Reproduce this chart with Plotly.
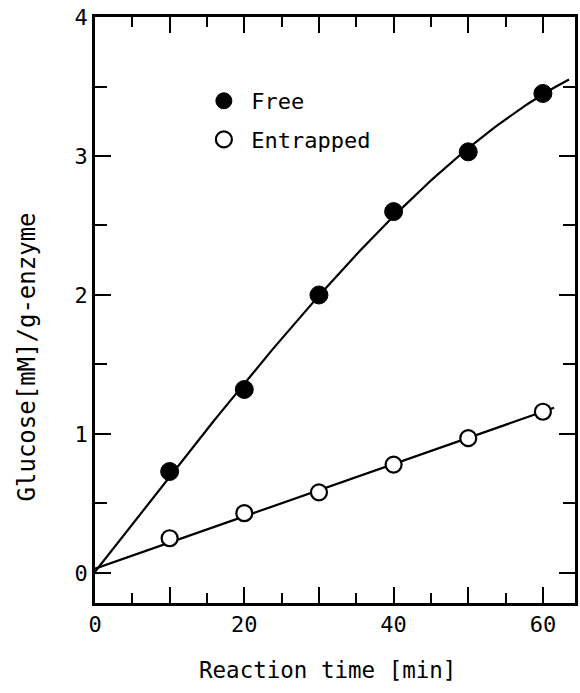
import numpy as np
import plotly.graph_objects as go

# Data
time_min = [10, 20, 30, 40, 50, 60]
free = [0.73, 1.32, 2.00, 2.60, 3.03, 3.45]
entrapped = [0.25, 0.43, 0.58, 0.78, 0.97, 1.16]

x_tick_vals = [0, 20, 40, 60]
y_tick_vals = [0, 1, 2, 3, 4]

FONT = "DejaVu Sans Mono"

# Smooth fitted curves through origin + data
xf = np.array([0] + time_min, dtype=float)
yf = np.array([0] + free, dtype=float)
cf = np.polyfit(xf, yf, 3)
x_curve_f = np.linspace(0, 63.5, 120)
y_curve_f = np.polyval(cf, x_curve_f)

ye = np.array([0] + entrapped, dtype=float)
ce = np.polyfit(xf, ye, 1)
x_curve_e = np.linspace(0, 61.5, 50)
y_curve_e = np.polyval(ce, x_curve_e)

fig = go.Figure()
fig.add_trace(go.Scatter(x=x_curve_f, y=y_curve_f, mode="lines",
                         line=dict(color="black", width=2.2), showlegend=False, hoverinfo="skip"))
fig.add_trace(go.Scatter(x=x_curve_e, y=y_curve_e, mode="lines",
                         line=dict(color="black", width=2.2), showlegend=False, hoverinfo="skip"))
fig.add_trace(go.Scatter(x=time_min, y=free, mode="markers", name="Free", legendgroup="a",
                         marker=dict(symbol="circle", size=18, color="black",
                                     line=dict(color="black", width=1))))
fig.add_trace(go.Scatter(x=time_min, y=entrapped, mode="markers", name="Entrapped", legendgroup="b",
                         marker=dict(symbol="circle", size=16, color="white",
                                     line=dict(color="black", width=2.2))))

axis_common = dict(showline=True, linecolor="black", linewidth=2.5, mirror="allticks",
                   ticks="inside", tickcolor="black", tickwidth=2.2, ticklen=16,
                   showgrid=False, zeroline=False,
                   tickfont=dict(family=FONT, size=22, color="black"))

fig.update_xaxes(range=[0, 64.3], tickmode="array",
                 tickvals=list(range(0, 61, 10)),
                 ticktext=[str(v) if v in x_tick_vals else "" for v in range(0, 61, 10)],
                 minor=dict(tickmode="array", tickvals=list(range(5, 61, 10)), ticks="inside",
                            ticklen=10, tickwidth=2.2, tickcolor="black"),
                 **axis_common)
fig.update_yaxes(range=[-0.216, 4.0], tickmode="array",
                 tickvals=y_tick_vals,
                 ticktext=[str(v) for v in y_tick_vals],
                 minor=dict(tickmode="array", tickvals=[0.5, 1.5, 2.5, 3.5], ticks="inside",
                            ticklen=12, tickwidth=2.2, tickcolor="black"),
                 **axis_common)

# axis titles as annotations (paper coords) to match placement
pw = 580 - 95 - 2
ph = 693 - 17 - 90
fig.add_annotation(text="Reaction time [min]", xref="paper", yref="paper",
                   x=(329 - 95) / pw, y=(603 - 670) / ph, xanchor="center", yanchor="middle",
                   showarrow=False, font=dict(family=FONT, size=22.5, color="black"))
fig.add_annotation(text="Glucose[mM]/g-enzyme", xref="paper", yref="paper",
                   x=(27 - 95) / pw, y=(603 - 357) / ph, xanchor="center", yanchor="middle",
                   textangle=-90, showarrow=False, font=dict(family=FONT, size=24, color="black"))

fig.update_layout(
    width=580, height=693,
    margin=dict(l=95, r=2, t=17, b=90),
    plot_bgcolor="white", paper_bgcolor="white",
    font=dict(family=FONT, size=22, color="black"),
    legend=dict(x=(197 - 95) / pw, y=(603 - 80) / ph, xanchor="left", yanchor="top",
                bgcolor="rgba(0,0,0,0)", font=dict(family=FONT, size=22, color="black"),
                itemsizing="trace", itemwidth=45, tracegroupgap=7),
)

fig.write_html("out.html")
